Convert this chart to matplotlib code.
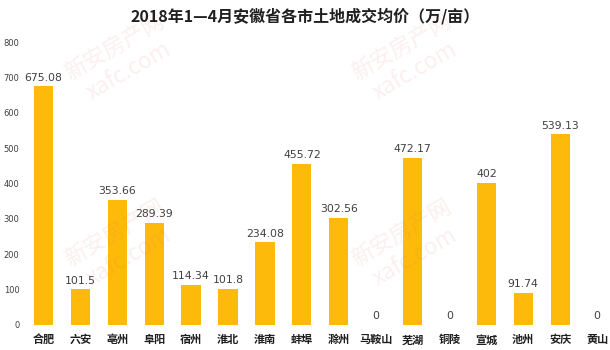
import matplotlib
matplotlib.use("Agg")
from matplotlib import pyplot as plt

plt.rcParams['font.family'] = ['Noto Sans CJK SC', 'DejaVu Sans']

cities = ['合肥', '六安', '亳州', '阜阳', '宿州', '淮北', '淮南', '蚌埠',
          '滁州', '马鞍山', '芜湖', '铜陵', '宣城', '池州', '安庆', '黄山']
prices = [675.08, 101.5, 353.66, 289.39, 114.34, 101.8, 234.08, 455.72,
          302.56, 0, 472.17, 0, 402, 91.74, 539.13, 0]
labels = ['675.08', '101.5', '353.66', '289.39', '114.34', '101.8', '234.08', '455.72',
          '302.56', '0', '472.17', '0', '402', '91.74', '539.13', '0']
yticks = [0, 100, 200, 300, 400, 500, 600, 700, 800]

fig = plt.figure(figsize=(6.1, 3.5), dpi=100)
ax = fig.add_axes([25/610, 1-325/350, 1-25/610, (325-42)/350])

x = list(range(len(cities)))
ax.bar(x, prices, width=0.52, color='#FDBA0A', zorder=2)
for xi, v, t in zip(x, prices, labels):
    ax.text(xi, v + 10, t, ha='center', va='bottom', fontsize=7.8,
            color='#404040', family=['DejaVu Sans'])

ax.set_xlim(-0.5, 15.35)
ax.set_ylim(0, 800)
ax.set_yticks(yticks)
ax.set_yticklabels([str(v) for v in yticks], fontsize=6, color='#404040',
                   family=['DejaVu Sans'])
ax.set_xticks(x)
ax.set_xticklabels(cities, fontsize=8, fontweight='bold', color='#202020')
ax.tick_params(axis='both', length=0)
ax.tick_params(axis='x', pad=6)
ax.tick_params(axis='y', pad=4)
for s in ax.spines.values():
    s.set_visible(False)

fig.text(0.5, 0.955, '2018年1—4月安徽省各市土地成交均价（万/亩）', ha='center', va='center',
         fontsize=11.5, fontweight='bold', color='#202020')

# faint watermark
for wx, wy in [(0.2, 0.83), (0.67, 0.83), (0.2, 0.3), (0.67, 0.3)]:
    fig.text(wx, wy, '新安房产网\nxafc.com', ha='center', va='center', fontsize=16,
             color='#E06060', alpha=0.1, rotation=30, zorder=0)

fig.savefig('out.png', dpi=100)
